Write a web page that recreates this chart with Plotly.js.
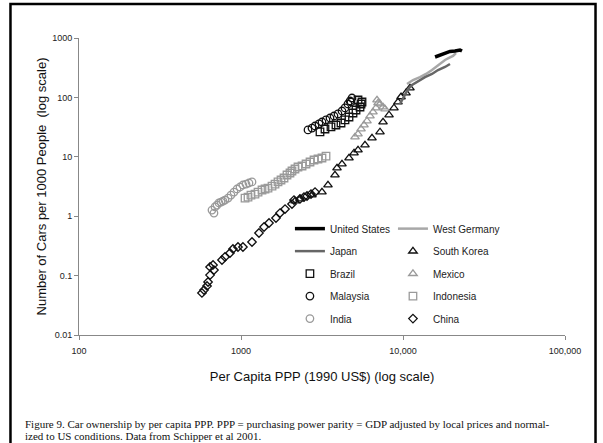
<!DOCTYPE html>
<html>
<head>
<meta charset="utf-8">
<script src="https://cdn.plot.ly/plotly-3.0.1.min.js"></script>
<style>
html,body{margin:0;padding:0;background:#fff;}
#chart{width:603px;height:443px;}
</style>
</head>
<body>
<div id="chart"></div>
<script>
// Per capita PPP (1990 US$) and cars per 1000 people
const usX = [15770, 16920, 18170, 19500, 20940, 22480, 23130];
const usY = [479, 517, 559, 593, 604, 628, 604];

const germanyX = [10590, 11530, 12730, 13870, 15100, 16220, 17170, 18170, 19230, 20360, 21230];
const germanyY = [168, 196, 220, 248, 289, 338, 379, 426, 461, 498, 559];

const japanX = [9580, 10140, 10740, 11370, 12380, 13670, 15100, 16450, 18170, 19500];
const japanY = [77.4, 102, 138, 162, 189, 220, 248, 289, 325, 365];

const koreaX = [2154, 2312, 2742, 3162, 3443, 3802, 3914, 4201, 4642, 4986, 5276, 5826, 6436, 7211, 7530, 8199, 8796, 9314, 9724, 10440, 11040];
const koreaY = [1.80, 1.95, 2.27, 2.55, 3.35, 4.94, 6.47, 7.57, 9.55, 11.6, 13.0, 15.8, 20.7, 26.2, 38.5, 50.6, 66.4, 83.7, 102, 119, 144];

const brazilX = [3073, 3300, 3594, 3857, 4143, 4385, 4642, 4914, 5129, 5429, 5585, 5276, 5508];
const brazilY = [26.2, 29.4, 31.8, 34.3, 37.1, 41.7, 46.8, 54.6, 61.4, 68.9, 83.7, 90.4, 77.4];

const mexicoX = [5055, 5276, 5508, 5745, 5995, 6256, 6528, 6812, 7010, 6910, 7211, 7530, 7745];
const mexicoY = [21.5, 24.2, 29.4, 34.3, 40.1, 48.6, 56.8, 66.4, 80.5, 90.4, 77.4, 68.9, 63.8];

const malaysiaX = [2592, 2742, 2864, 3030, 3162, 3348, 3543, 3750, 3969, 4201, 4385, 4573, 4710, 4843, 4776];
const malaysiaY = [28.3, 30.5, 33.0, 35.7, 38.5, 41.7, 45.0, 48.6, 52.6, 59.0, 66.4, 77.4, 87.0, 97.7, 83.7];

const indonesiaX = [1059, 1105, 1152, 1220, 1274, 1348, 1407, 1468, 1554, 1622, 1692, 1766, 1843, 1923, 2006, 2064, 2154, 2248, 2382, 2520, 2667, 2823, 2987, 3162, 3348];
const indonesiaY = [2.02, 2.10, 2.27, 2.36, 2.55, 2.76, 2.87, 2.98, 3.22, 3.48, 3.77, 4.07, 4.40, 4.94, 5.34, 5.77, 6.23, 6.73, 7.00, 7.57, 8.17, 8.83, 9.18, 9.55, 10.3];

const indiaX = [662, 681, 691, 711, 731, 753, 774, 796, 832, 867, 905, 945, 986, 1028, 1074, 1120, 1169];
const indiaY = [1.27, 1.13, 1.43, 1.54, 1.67, 1.73, 1.80, 1.87, 2.02, 2.27, 2.55, 2.87, 3.10, 3.35, 3.48, 3.62, 3.77];

const chinaX = [574, 591, 617, 626, 644, 644, 672, 681, 763, 796, 855, 892, 958, 1028, 1169, 1291, 1387, 1489, 1644, 1741, 1870, 2064, 2124, 2312, 2448, 2555, 2704, 2864];
const chinaY = [0.051, 0.057, 0.067, 0.078, 0.102, 0.140, 0.151, 0.124, 0.183, 0.206, 0.240, 0.281, 0.303, 0.303, 0.368, 0.521, 0.658, 0.769, 0.933, 1.13, 1.32, 1.60, 1.87, 1.95, 2.10, 2.19, 2.36, 2.55];

const xTickVals = [100, 1000, 10000, 100000];
const xTickText = ["100", "1000", "10,000", "100,000"];
const yTickVals = [0.01, 0.1, 1, 10, 100, 1000];
const yTickText = ["0.01", "0.1", "1", "10", "100", "1000"];

const BLACK = "#111111";
const GRAY = "#9a9a9a";

function lineTrace(name, x, y, color, width, legend) {
  return {type: "scatter", mode: "lines", name: name, x: x, y: y,
    line: {color: color, width: width}, legend: legend, legendgroup: name};
}
function markerTrace(name, x, y, symbol, color, size, legend) {
  return {type: "scatter", mode: "markers", name: name, x: x, y: y,
    marker: {symbol: symbol, size: size, color: color, line: {color: color, width: 1.3}},
    legend: legend, legendgroup: name};
}

const traces = [
  markerTrace("India", indiaX, indiaY, "circle-open", GRAY, 7.5, "legend"),
  markerTrace("Indonesia", indonesiaX, indonesiaY, "square-open", GRAY, 7.5, "legend2"),
  markerTrace("China", chinaX, chinaY, "diamond-open", BLACK, 6.5, "legend2"),
  markerTrace("Mexico", mexicoX, mexicoY, "triangle-up-open", GRAY, 7.5, "legend2"),
  markerTrace("South Korea", koreaX, koreaY, "triangle-up-open", BLACK, 7.5, "legend2"),
  markerTrace("Malaysia", malaysiaX, malaysiaY, "circle-open", BLACK, 7.5, "legend"),
  markerTrace("Brazil", brazilX, brazilY, "square-open", BLACK, 7.5, "legend"),
  lineTrace("West Germany", germanyX, germanyY, "#a8a8a8", 2.5, "legend2"),
  lineTrace("Japan", japanX, japanY, "#666666", 2.5, "legend"),
  lineTrace("United States", usX, usY, "#000000", 3.5, "legend")
];

// legend order
const order1 = ["United States", "Japan", "Brazil", "Malaysia", "India"];
const order2 = ["West Germany", "South Korea", "Mexico", "Indonesia", "China"];
traces.forEach(t => {
  const i1 = order1.indexOf(t.name), i2 = order2.indexOf(t.name);
  t.legendrank = (i1 >= 0 ? i1 : i2) + 1;
});

const axisFont = {family: "Liberation Sans, Arial, sans-serif", size: 9, color: "#222"};
const legendCommon = {
  orientation: "v", xanchor: "left", yanchor: "top",
  bgcolor: "rgba(0,0,0,0)", borderwidth: 0,
  font: {family: "Liberation Sans, Arial, sans-serif", size: 10, color: "#222"},
  tracegroupgap: 3.5, traceorder: "grouped", itemwidth: 30
};

const layout = {
  width: 603, height: 443,
  margin: {l: 79, r: 38, t: 38, b: 108},
  paper_bgcolor: "#ffffff", plot_bgcolor: "#ffffff",
  showlegend: true,
  xaxis: {
    type: "log", range: [2, 5], tickvals: xTickVals, ticktext: xTickText,
    showgrid: false, zeroline: false, showline: true, linecolor: "#888", linewidth: 1,
    ticks: "outside", ticklen: 4, tickcolor: "#888", tickfont: axisFont, ticklabelstandoff: 3,
    title: {text: "Per Capita PPP (1990 US$) (log scale)", standoff: 17,
      font: {family: "Liberation Sans, Arial, sans-serif", size: 13, color: "#111"}},
    automargin: false
  },
  yaxis: {
    type: "log", range: [-2, 3], tickvals: yTickVals, ticktext: yTickText,
    showgrid: false, zeroline: false, showline: true, linecolor: "#888", linewidth: 1,
    ticks: "outside", ticklen: 4, tickcolor: "#888", tickfont: axisFont,
    title: {text: "Number of Cars per 1000 People  (log scale)", standoff: 2,
      font: {family: "Liberation Sans, Arial, sans-serif", size: 13, color: "#111"}},
    automargin: false
  },
  legend: Object.assign({}, legendCommon, {x: 0.434, y: 0.407}),
  legend2: Object.assign({}, legendCommon, {x: 0.646, y: 0.407}),
  shapes: [
    {type: "rect", xref: "paper", yref: "paper",
      x0: -0.141, x1: 1.0628, y0: -0.40, y1: 1.1145,
      line: {color: "#000", width: 2.5}, fillcolor: "rgba(0,0,0,0)"}
  ],
  annotations: [
    {xref: "paper", yref: "paper", x: -0.115, y: -0.300, xanchor: "left", yanchor: "middle",
      showarrow: false, align: "left",
      text: "Figure 9. Car ownership by per capita PPP. PPP = purchasing power parity = GDP adjusted by local prices and normal-",
      font: {family: "Liberation Serif, Times New Roman, serif", size: 11, color: "#111"}},
    {xref: "paper", yref: "paper", x: -0.115, y: -0.340, xanchor: "left", yanchor: "middle",
      showarrow: false, align: "left",
      text: "ized to US conditions. Data from Schipper et al 2001.",
      font: {family: "Liberation Serif, Times New Roman, serif", size: 11, color: "#111"}}
  ]
};

Plotly.newPlot("chart", traces, layout, {displayModeBar: false, staticPlot: true});
</script>
</body>
</html>
